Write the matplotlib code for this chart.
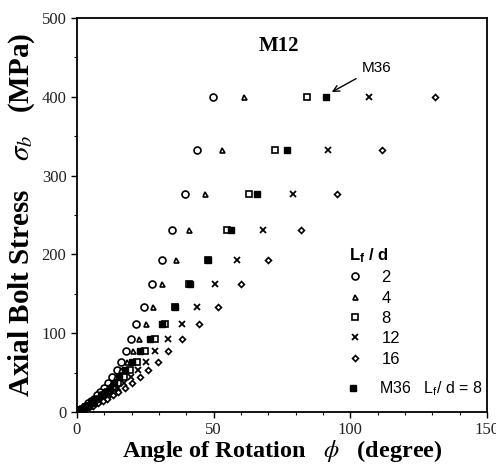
import matplotlib
matplotlib.use("Agg")
import matplotlib.pyplot as plt

# stress levels (MPa) shared by all series
stress = [400, 333, 277, 231, 193, 162, 133, 112, 93, 77, 64, 53, 44, 37,
          31, 25, 21, 17, 14, 11, 8, 6, 4, 2, 0]

# angle of rotation (degree) for each Lf/d
phi_2 = [49.6, 44, 39.4, 34.8, 31, 27.6, 24.6, 21.8, 19.7, 17.9, 16.3, 14.6,
         13, 11.5, 10, 8.6, 7.4, 6.2, 5.2, 4.2, 3.2, 2.5, 1.7, 0.9, 0]
phi_4 = [61, 53, 47, 41, 36.4, 31, 28, 25.4, 22.7, 20.5, 18.2, 16.2, 14.4,
         12.8, 11.2, 9.6, 8.3, 7, 5.9, 4.8, 3.7, 2.9, 2, 1.1, 0]
phi_8 = [84, 72.6, 63, 55, 48, 41, 36, 32.4, 28.5, 25, 22, 19.5, 17.2, 15.2,
         13.3, 11.4, 9.9, 8.3, 7, 5.7, 4.4, 3.4, 2.4, 1.3, 0]
phi_12 = [107, 92, 79, 68, 58.5, 50.6, 44, 38.4, 33.3, 28.7, 25.4, 22.4,
          19.8, 17.4, 15.2, 13, 11.3, 9.5, 8, 6.5, 5, 3.9, 2.7, 1.5, 0]
phi_16 = [131, 111.6, 95, 82, 70, 60, 51.5, 44.5, 38.4, 33.5, 29.6, 26, 23,
          20.2, 17.7, 15.2, 13.2, 11.1, 9.4, 7.6, 5.8, 4.5, 3.1, 1.7, 0]
phi_m36 = [91, 77, 66, 56.5, 48, 41.5, 36, 31, 26.6, 23, 20, 17.6, 15.5,
           13.7, 12, 10.3, 8.9, 7.5, 6.3, 5.1, 3.9, 3, 2.1, 1.1, 0]

series = [("2", phi_2, "o", 5), ("4", phi_4, "^", 3.6),
          ("8", phi_8, "s", 4.8), ("12", phi_12, "x", 4.5),
          ("16", phi_16, "D", 3)]

serif = ["Liberation Serif", "DejaVu Serif"]
sans = ["Liberation Sans", "DejaVu Sans"]
plt.rcParams["mathtext.fontset"] = "stix"

fig = plt.figure(figsize=(4.96, 4.73), dpi=100)
ax = fig.add_axes([0.155, 0.129, 0.827, 0.833])

handles = []
for name, xs, mk, ms in series:
    if mk == "x":
        h, = ax.plot(xs, stress, ls="none", marker=mk, ms=ms, mew=1.3,
                     color="black", label=name)
    else:
        h, = ax.plot(xs, stress, ls="none", marker=mk, ms=ms, mew=1.2,
                     mfc="white", mec="black", label=name)
    handles.append(h)

h36, = ax.plot(phi_m36, stress, ls="none", marker="s", ms=5,
               color="black", label="M36")

ax.set_xlim(0, 150)
ax.set_ylim(0, 500)
ax.set_xticks([0, 50, 100, 150])
ax.set_yticks([0, 100, 200, 300, 400, 500])
ax.set_xticks(range(0, 151, 10), minor=True)
ax.set_yticks(range(0, 501, 50), minor=True)
ax.tick_params(which="major", length=4, width=1, labelsize=12)
ax.tick_params(which="minor", length=2.5, width=0.8)
for lab in ax.get_xticklabels() + ax.get_yticklabels():
    lab.set_family(serif)
    lab.set_color("#222222")
for sp in ax.spines.values():
    sp.set_linewidth(1.3)

ax.set_xlabel(r"Angle of Rotation   $\phi$   (degree)", family=serif,
              fontweight="bold", fontsize=17.5, labelpad=0)
ax.set_ylabel(r"Axial Bolt Stress    $\sigma_b$   (MPa)", family=serif,
              fontweight="bold", fontsize=21, labelpad=3)

ax.text(74, 465, "M12", family=serif, fontweight="bold", fontsize=15,
        ha="center", va="center")
ax.annotate("M36", xy=(93.2, 406), xytext=(104, 437), family=sans,
            fontsize=11, va="center",
            arrowprops=dict(arrowstyle="->", lw=1, color="black",
                            shrinkA=2, shrinkB=0))

leg1 = ax.legend(handles=handles, title=r"L$_\mathregular{f}$ / d",
                 loc="upper left", bbox_to_anchor=(0.6, 0.458),
                 frameon=False, handletextpad=0.6, labelspacing=0.32,
                 prop={"family": sans, "size": 12})
leg1.get_title().set_family(sans)
leg1.get_title().set_fontsize(12)
leg1.get_title().set_fontweight("bold")
ax.add_artist(leg1)

ax.legend(handles=[h36], labels=["M36   L$_\\mathregular{f}$/ d = 8"],
          loc="upper left", bbox_to_anchor=(0.6, 0.118), frameon=False,
          handletextpad=0.6, prop={"family": sans, "size": 11.5})

fig.savefig("out.png", dpi=100)
